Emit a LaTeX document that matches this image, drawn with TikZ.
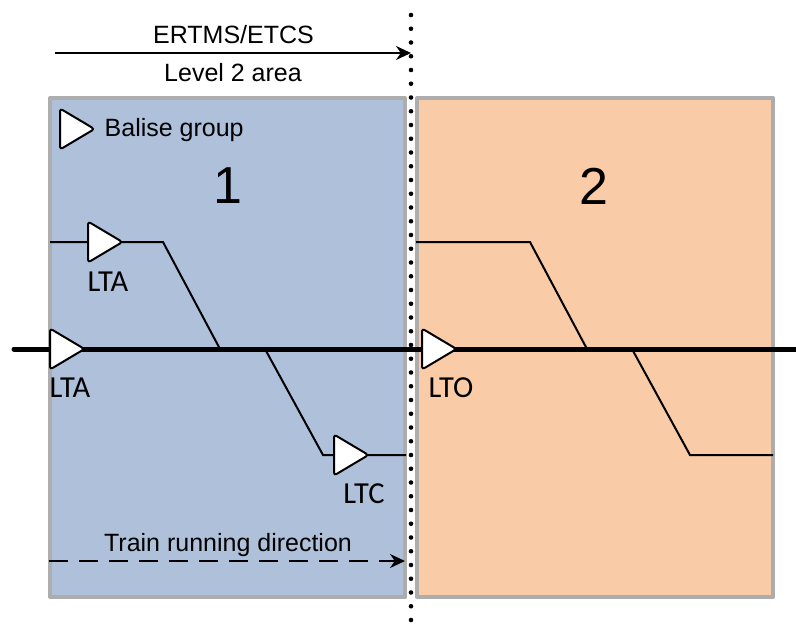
\documentclass[tikz,border=0pt]{standalone}
\usepackage{fontspec}
\setmainfont{Liberation Sans}
\newfontfamily\calib{Carlito}
\usetikzlibrary{shapes.geometric,arrows.meta}
\definecolor{zoneblue}{HTML}{AFC1DA}
\definecolor{zoneorange}{HTML}{F9CBA6}
\definecolor{zonegray}{HTML}{ADADAD}
\tikzset{
  zone/.style={draw=zonegray,line width=4pt,line join=round,outer sep=0pt,inner sep=0pt,anchor=north west},
  balise/.style={isosceles triangle,isosceles triangle apex angle=65,isosceles triangle stretches,
    minimum width=41pt,minimum height=34.5pt,inner sep=0pt,outer sep=0pt,draw=black,fill=white,line width=2pt,rounded corners=3pt,anchor=lower side},
  track/.style={line width=2pt,line join=miter,black},
  mainline/.style={line width=5pt,line cap=round,black},
  tag/.style={font=\calib\fontsize{30.5}{31}\selectfont,inner sep=0pt},
  txt/.style={font=\fontsize{25}{25}\selectfont,inner sep=0pt},
  big/.style={font=\fontsize{52}{52}\selectfont,inner sep=0pt},
  boundary/.style={line width=4.6pt,line cap=round,dash pattern=on 0pt off 13.75pt},
  arrowline/.style={line width=2pt,-{Stealth[length=15pt,width=14pt]}},
}
\begin{document}
\begin{tikzpicture}[x=1pt,y=-1pt]
\useasboundingbox (0,0) rectangle (796,630);
\fill[white] (0,0) rectangle (796,630);
\node[zone,fill=zoneblue,minimum width=355pt,minimum height=499pt] (zoneA) at (50,98) {};
\node[zone,fill=zoneorange,minimum width=356pt,minimum height=499pt] (zoneB) at (417,98) {};
\node[big] (numA) at (228,186) {1};
\node[big] (numB) at (594,186) {2};
% free ends and bends
\coordinate (mW) at (14,349);
\coordinate (mE) at (796,349);
\coordinate (aW) at (50,242);
\coordinate (aB) at (163,242);
\coordinate (aJ) at (220,349);
\coordinate (cJ) at (265,349);
\coordinate (cB) at (323,455);
\coordinate (cE) at (406,455);
\coordinate (bW) at (416,242);
\coordinate (bB) at (530,242);
\coordinate (bJ) at (587,349);
\coordinate (dJ) at (632,349);
\coordinate (dB) at (690,455);
\coordinate (dE) at (773,455);
\draw[mainline] (mW) -- (mE);
\draw[track] (aW) -- (aB) -- (aJ);
\draw[track] (cJ) -- (cB) -- (cE);
\draw[track] (bW) -- (bB) -- (bJ);
\draw[track] (dJ) -- (dB) -- (dE);
% balises
\node[balise] (legend) at (60,129) {};
\node[balise] (b1) at (88,242) {};
\node[balise] (b2) at (50,349) {};
\node[balise] (b3) at (422,349) {};
\node[balise] (b4) at (334,455) {};
\node[txt,anchor=west] (legendT) at (104.5,130.5) {Balise group};
\node[tag] (t1) at (108,282) {LTA};
\node[tag] (t2) at (70,388) {LTA};
\node[tag] (t3) at (451,388) {LTO};
\node[tag] (t4) at (364,494) {LTC};
% boundary
\coordinate (dotN) at (411,15);
\coordinate (dotS) at (411,630);
\draw[boundary] (dotN) -- (dotS);
% arrows
\coordinate (topW) at (55,53);
\coordinate (topE) at (411,53);
\draw[arrowline] (topW) -- (topE);
\node[txt] (ert) at (233.5,35) {ERTMS/ETCS};
\node[txt] (lvl) at (233,73) {Level 2 area};
\coordinate (runW) at (49,561);
\coordinate (runE) at (405,561);
\draw[arrowline,dash pattern=on 19pt off 11pt] (runW) -- (runE);
\node[txt] (run) at (228,545) {Train running direction};
\end{tikzpicture}
\end{document}
